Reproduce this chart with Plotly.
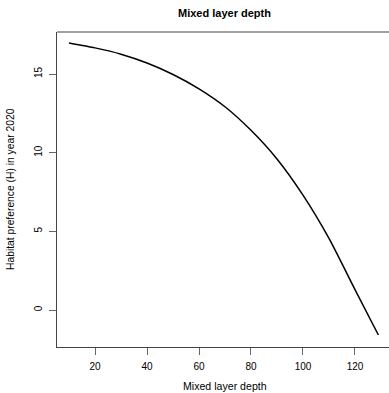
import plotly.graph_objects as go

# Data
depth = [10, 20, 30, 40, 50, 60, 70, 80, 90, 100, 110, 120, 129]
habitat = [16.97, 16.66, 16.26, 15.70, 14.97, 14.06, 12.92, 11.42, 9.6, 7.3, 4.55, 1.3, -1.59]

x_ticks = [20, 40, 60, 80, 100, 120]
y_ticks = [0, 5, 10, 15]

title_text = "Mixed layer depth"
x_title = "Mixed layer depth"
y_title = "Habitat preference (H) in year 2020"

FONT = "Liberation Sans, Arial, Helvetica, sans-serif"

fig = go.Figure()
fig.add_trace(go.Scatter(
    x=depth, y=habitat, mode="lines",
    line=dict(color="black", width=1.5, shape="spline", smoothing=0.6),
    hoverinfo="skip", showlegend=False,
))

W, H = 389, 393
L, R, T, B = 57, 0, 32, 46
plot_w = W - L - R
plot_h = H - T - B

fig.update_layout(
    width=W, height=H,
    margin=dict(l=L, r=R, t=T, b=B, pad=0),
    paper_bgcolor="white", plot_bgcolor="white",
    font=dict(family=FONT, size=10, color="black"),
    showlegend=False,
)

fig.update_xaxes(
    range=[5.385, 133.08], tickvals=x_ticks, ticktext=[str(v) for v in x_ticks],
    showgrid=False, zeroline=False,
    showline=True, linecolor="#444", linewidth=1, mirror=False,
    ticks="outside", ticklen=7, tickcolor="#666", tickwidth=1,
    tickfont=dict(family=FONT, size=10, color="black"),
    ticklabelstandoff=3,
)
fig.update_yaxes(
    range=[-2.352, 17.67], tickvals=y_ticks, ticktext=[str(v) for v in y_ticks],
    showgrid=False, zeroline=False,
    showline=True, linecolor="#444", linewidth=1, mirror=False,
    ticks="outside", ticklen=7, tickcolor="#666", tickwidth=1,
    tickangle=-90,
    tickfont=dict(family=FONT, size=10, color="black"),
    ticklabelstandoff=3,
)

# top border of the box (right border lies outside the visible window)
fig.add_shape(type="line", xref="paper", yref="paper", x0=0, x1=1, y0=1, y1=1,
              line=dict(color="#444", width=1))

fig.add_annotation(text="<b>" + title_text + "</b>", xref="paper", yref="paper",
                   x=(224.5 - L) / plot_w, y=1 + 18.7 / plot_h, xanchor="center", yanchor="middle",
                   showarrow=False, font=dict(family=FONT, size=11, color="black"))
fig.add_annotation(text=x_title, xref="paper", yref="paper",
                   x=(224.8 - L) / plot_w, y=-39.0 / plot_h, xanchor="center", yanchor="middle",
                   showarrow=False, font=dict(family=FONT, size=10.6, color="black"))
fig.add_annotation(text=y_title, xref="paper", yref="paper",
                   x=-(L - 10.5) / plot_w, y=0.5, xanchor="center", yanchor="middle",
                   textangle=-90, showarrow=False, font=dict(family=FONT, size=10.3, color="black"))

fig.write_html(
    "out.html",
    config={"displayModeBar": False, "staticPlot": True},
    post_script="document.body.style.margin='0';document.body.style.overflow='hidden';",
)
